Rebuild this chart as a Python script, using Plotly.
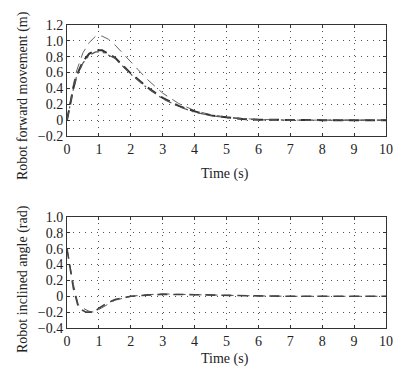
import plotly.graph_objects as go

# ---- data ----
t_fwd = [0, 0.1, 0.2, 0.3, 0.5, 0.7, 0.9, 1.1, 1.3, 1.5, 2.0, 2.5, 3.0, 3.5, 4.0, 4.5, 5.0, 5.5, 6.0, 7.0, 8.0, 9.0, 10.0]
fwd_a = [0, 0.25, 0.45, 0.62, 0.85, 0.98, 1.06, 1.06, 1.02, 0.95, 0.74, 0.52, 0.34, 0.21, 0.12, 0.07, 0.04, 0.02, 0.01, 0.0, 0.0, 0.0, 0.0]
fwd_b = [0, 0.22, 0.40, 0.56, 0.74, 0.84, 0.88, 0.88, 0.84, 0.79, 0.59, 0.42, 0.28, 0.18, 0.11, 0.06, 0.035, 0.015, 0.005, 0.0, 0.0, 0.0, 0.0]
fwd_c = [0, 0.21, 0.39, 0.55, 0.72, 0.82, 0.86, 0.86, 0.82, 0.78, 0.58, 0.41, 0.27, 0.17, 0.10, 0.06, 0.03, 0.015, 0.005, 0.0, 0.0, 0.0, 0.0]

t_ang = [0, 0.1, 0.2, 0.35, 0.5, 0.6, 0.7, 0.85, 1.0, 1.2, 1.5, 2.0, 2.5, 3.0, 4.0, 5.0, 6.0, 7.0, 8.0, 9.0, 10.0]
ang_a = [0.6, 0.38, 0.15, -0.1, -0.15, -0.17, -0.19, -0.2, -0.17, -0.12, -0.05, 0.0, 0.02, 0.03, 0.02, 0.01, 0.005, 0.0, 0.0, 0.0, 0.0]
ang_b = [0.6, 0.35, 0.1, -0.13, -0.18, -0.2, -0.2, -0.2, -0.15, -0.1, -0.04, 0.0, 0.015, 0.025, 0.02, 0.01, 0.005, 0.0, 0.0, 0.0, 0.0]

x_ticks = [0, 1, 2, 3, 4, 5, 6, 7, 8, 9, 10]
y1_ticks = [-0.2, 0, 0.2, 0.4, 0.6, 0.8, 1.0, 1.2]
y1_text = ["\u22120.2", "0", "0.2", "0.4", "0.6", "0.8", "1.0", "1.2"]
y2_ticks = [-0.4, -0.2, 0, 0.2, 0.4, 0.6, 0.8, 1.0]
y2_text = ["\u22120.4", "\u22120.2", "0", "0.2", "0.4", "0.6", "0.8", "1.0"]

x_title = "Time (s)"
y1_title = "Robot forward movement (m)"
y2_title = "Robot inclined angle (rad)"

fig = go.Figure()
fig.add_trace(go.Scatter(x=t_fwd, y=fwd_a, mode="lines", line=dict(color="#666", width=1, dash="10px,6px"), xaxis="x", yaxis="y"))
fig.add_trace(go.Scatter(x=t_fwd, y=fwd_b, mode="lines", line=dict(color="#333", width=2, dash="10px,6px"), xaxis="x", yaxis="y"))
fig.add_trace(go.Scatter(x=t_fwd, y=fwd_c, mode="lines", line=dict(color="#555", width=1.2, dash="8px,4px,2px,4px"), xaxis="x", yaxis="y"))
fig.add_trace(go.Scatter(x=t_ang, y=ang_a, mode="lines", line=dict(color="#555", width=1, dash="10px,6px"), xaxis="x2", yaxis="y2"))
fig.add_trace(go.Scatter(x=t_ang, y=ang_b, mode="lines", line=dict(color="#444", width=1.6, dash="10px,6px"), xaxis="x2", yaxis="y2"))

tick_font = dict(family="Liberation Serif, Times New Roman, serif", size=14, color="#222")
title_font = dict(family="Liberation Serif, Times New Roman, serif", size=14, color="#222")

def xaxis(anchor):
    return dict(
        range=[0, 10], tickvals=x_ticks, ticks="inside", ticklen=3, tickcolor="#333",
        showline=True, linecolor="#333", linewidth=1, mirror="ticks",
        showgrid=True, gridcolor="#555", griddash="1px,5px", gridwidth=1, zeroline=False,
        tickfont=tick_font, anchor=anchor,
    )

def yaxis(anchor, rng, vals, text, domain):
    return dict(
        range=rng, tickvals=vals, ticktext=text, ticks="inside", ticklen=3, tickcolor="#333",
        showline=True, linecolor="#333", linewidth=1, mirror="ticks",
        showgrid=True, gridcolor="#555", griddash="1px,5px", gridwidth=1, zeroline=False,
        tickfont=tick_font, anchor=anchor, domain=domain,
    )

annotations = [
    dict(text=y1_title, x=-0.138, y=0.769, xref="paper", yref="paper", textangle=-90,
         showarrow=False, xanchor="center", yanchor="middle", font=title_font),
    dict(text=y2_title, x=-0.138, y=0.1617, xref="paper", yref="paper", textangle=-90,
         showarrow=False, xanchor="center", yanchor="middle", font=title_font),
    dict(text=x_title, x=0.495, y=0.508, xref="paper", yref="paper",
         showarrow=False, xanchor="center", yanchor="middle", font=title_font),
    dict(text=x_title, x=0.495, y=-0.102, xref="paper", yref="paper",
         showarrow=False, xanchor="center", yanchor="middle", font=title_font),
]

fig.update_layout(
    width=406, height=374,
    margin=dict(l=67, r=20, t=25, b=46, autoexpand=False),
    paper_bgcolor="white", plot_bgcolor="white",
    showlegend=False,
    font=tick_font,
    xaxis=xaxis("y"),
    yaxis=yaxis("x", [-0.2, 1.2], y1_ticks, y1_text, [0.6337, 1.0]),
    xaxis2=xaxis("y2"),
    yaxis2=yaxis("x2", [-0.4, 1.0], y2_ticks, y2_text, [0.0, 0.3663]),
    annotations=annotations,
)

fig.write_html("out.html", config={"displayModeBar": False},
               post_script="document.body.style.margin='0';")
